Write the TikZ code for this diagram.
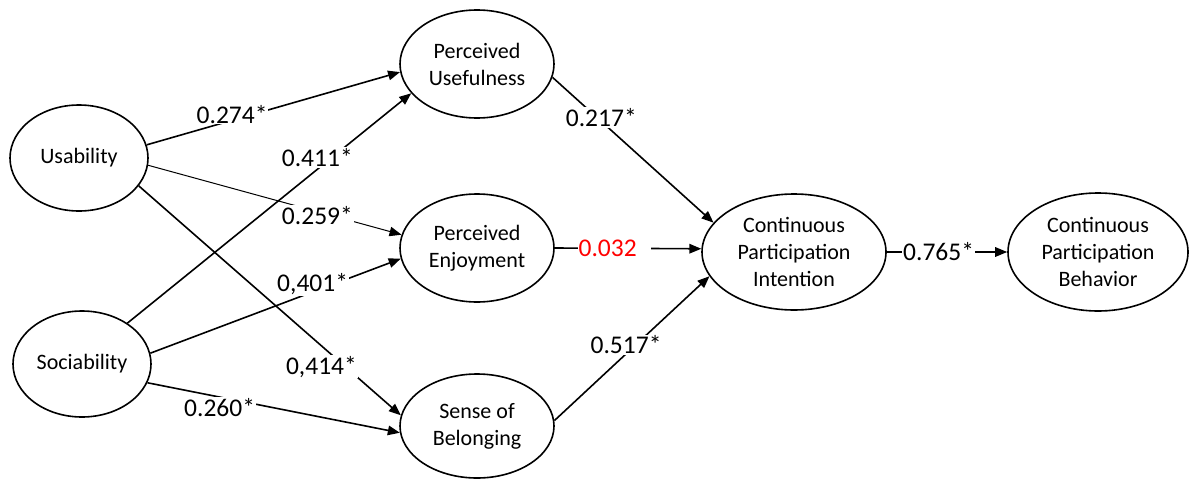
\documentclass[tikz,border=0pt]{standalone}
\usepackage{fontspec}
\setmainfont{Carlito}
\usetikzlibrary{shapes.geometric,arrows.meta}
\begin{document}
\begin{tikzpicture}[x=1pt,y=1pt,
  var/.style={ellipse,draw,line width=1.6pt,inner sep=0pt,align=center,font=\fontsize{22}{27}\selectfont},
  link/.style={line width=1.6pt,-{Triangle[length=12pt,width=9.5pt]}},
  thinlink/.style={link,line width=1pt},
  lbl/.style={fill=white,inner sep=1pt,font=\fontsize{25.5}{28}\selectfont}]
\useasboundingbox (0,0) rectangle (1190,-479);
% constructs
\node[var,minimum width=138pt,minimum height=106pt] (U) at (79,-158) {Usability};
\node[var,minimum width=138pt,minimum height=106pt] (S) at (82,-364) {Sociability};
\node[var,minimum width=154pt,minimum height=108pt] (PU) at (477,-64) {Perceived\\Usefulness};
\node[var,minimum width=154pt,minimum height=108pt] (PE) at (477,-248) {Perceived\\Enjoyment};
\node[var,minimum width=154pt,minimum height=104pt] (SB) at (477,-426) {Sense of\\Belonging};
\node[var,minimum width=184pt,minimum height=116pt] (CI) at (794,-252) {Continuous\\Participation\\Intention};
\node[var,minimum width=180pt,minimum height=118pt] (CB) at (1098,-252) {Continuous\\Participation\\Behavior};
% paths
\draw[link] (U.11) -- node[lbl,pos=0.337,yshift=6pt] (l1) {0.274*} (PU.186);
\draw[link] (S.42) -- node[lbl,pos=0.669,yshift=12pt] (l2) {0.411*} (PU.204);
\draw[thinlink] (U.-6) -- node[lbl,pos=0.668,yshift=-4pt] (l3) {0.259*} (PE.170);
\draw[link] (S.9) -- node[lbl,pos=0.648,yshift=8pt] (l4) {0,401*} (PE.188);
\draw[link] (U.-25) -- node[lbl,pos=0.697,yshift=-21pt] (l5) {0,414*} (SB.172);
\draw[link] (S.-16) -- node[lbl,pos=0.286,yshift=-10pt] (l6) {0.260*} (SB.185);
\draw[link] (PU.-10) -- node[lbl,pos=0.303,yshift=4pt] (l7) {0.217*} (CI.160);
\draw[link] (PE.0) -- node[lbl,pos=0.15,anchor=west,text=red] (l8) {0.032\kern13pt} (CI.178);
\draw[link] (SB.4) -- node[lbl,pos=0.462,yshift=9pt] (l9) {0.517*} (CI.196);
\draw[link] (CI.0) -- node[lbl,pos=0.43] (l10) {0.765*} (CB.180);
\end{tikzpicture}
\end{document}
